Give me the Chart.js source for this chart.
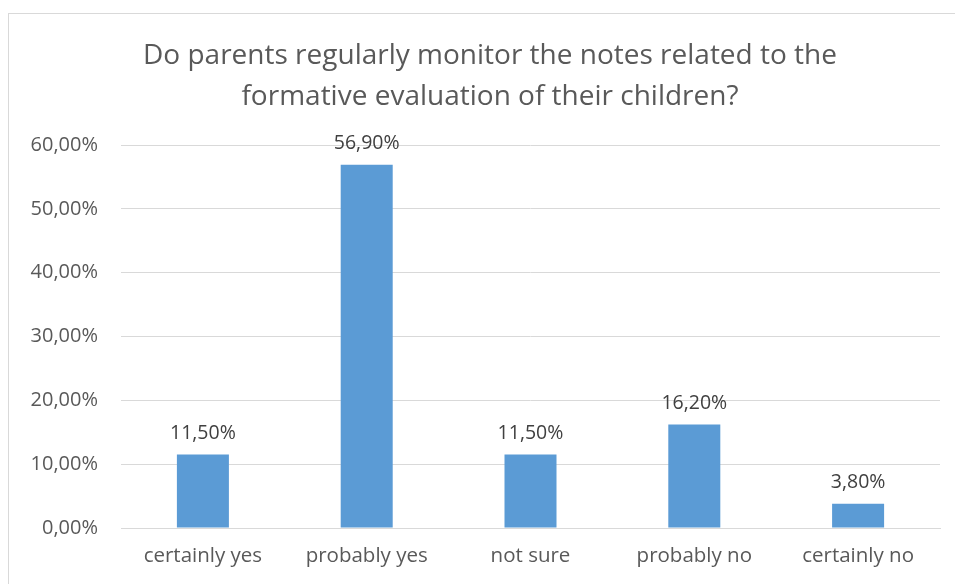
<!DOCTYPE html>
<html>
<head>
<meta charset="utf-8">
<script src="https://cdn.jsdelivr.net/npm/chart.js@4/dist/chart.umd.min.js"></script>
<style>
  html, body { margin: 0; padding: 0; background: #fff; overflow: hidden; width: 955px; height: 584px; }
  #wrap { position: absolute; left: 8px; top: 13px; width: 962px; height: 600px; border: 1px solid #d9d9d9; box-sizing: border-box; background: #fff; }
  #c { position: absolute; left: 0; top: 0; }
</style>
</head>
<body>
<div id="wrap"><canvas id="c" width="962" height="600"></canvas></div>
<script>
const titleLines = ["Do parents regularly monitor the notes related to the", "formative evaluation of their children?"];
const categories = ["certainly yes", "probably yes", "not sure", "probably no", "certainly no"];
const values = [11.5, 56.9, 11.5, 16.2, 3.8];
const yTicks = [0, 10, 20, 30, 40, 50, 60];

const FONT = "'Open Sans', 'DejaVu Sans', sans-serif";
const fmt = v => v.toFixed(2).replace('.', ',') + '%';

const extras = {
  id: 'extras',
  afterDatasetsDraw(chart) {
    const ctx = chart.ctx;
    const meta = chart.getDatasetMeta(0);
    ctx.save();
    ctx.font = "19.5px " + FONT;
    ctx.fillStyle = '#404040';
    ctx.textAlign = 'center';
    ctx.textBaseline = 'middle';
    meta.data.forEach((bar, i) => {
      ctx.fillText(fmt(values[i]), bar.x, bar.y - 21);
    });
    // chart title, centred on the whole chart box
    ctx.font = "28px " + FONT;
    ctx.fillStyle = '#595959';
    const cx = chart.width / 2;
    titleLines.forEach((t, i) => ctx.fillText(t, cx, 42 + i * 41));
    ctx.restore();
  }
};

new Chart(document.getElementById('c'), {
  type: 'bar',
  data: {
    labels: categories,
    datasets: [{
      data: values,
      backgroundColor: '#5b9bd5',
      borderWidth: 0,
      barPercentage: 0.3175,
      categoryPercentage: 1.0
    }]
  },
  options: {
    responsive: false,
    animation: false,
    devicePixelRatio: 1,
    layout: { padding: { left: 0, right: 31, top: 131, bottom: 46 } },
    plugins: {
      legend: { display: false },
      tooltip: { enabled: false },
      title: { display: false }
    },
    scales: {
      x: {
        grid: { display: false, drawTicks: false },
        border: { display: true, color: '#d9d9d9', width: 1 },
        ticks: { color: '#595959', font: { family: FONT, size: 20.5 }, padding: 16, maxRotation: 0 },
        afterFit(s) { s.height = 40; }
      },
      y: {
        min: 0, max: 60,
        afterBuildTicks(s) { s.ticks = yTicks.map(v => ({ value: v })); },
        grid: { color: '#d9d9d9', drawTicks: false, lineWidth: 1 },
        border: { display: false },
        ticks: { color: '#595959', font: { family: FONT, size: 20 }, padding: 23, callback: v => fmt(v) },
        afterFit(s) { s.width = 112; }
      }
    }
  },
  plugins: [extras]
});
</script>
</body>
</html>
